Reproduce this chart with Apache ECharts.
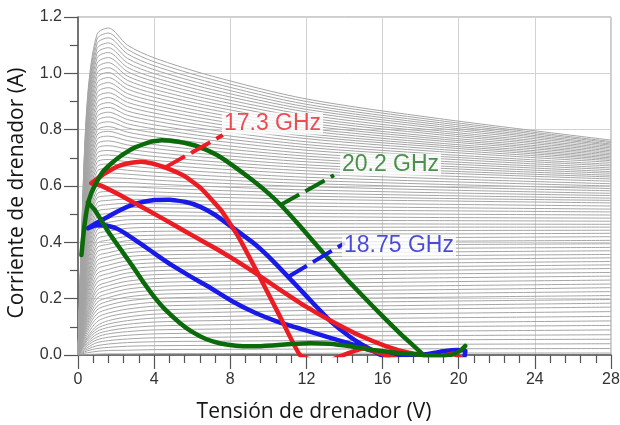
<!DOCTYPE html>
<html>
<head>
<meta charset="utf-8">
<script src="https://cdn.jsdelivr.net/npm/echarts@6.0.0/dist/echarts.min.js"></script>
<style>
  html, body { margin: 0; padding: 0; background: #ffffff; }
  #chart { width: 620px; height: 425px; }
</style>
</head>
<body>
<div id="chart"></div>
<script>
// ---- Output characteristics: drain current (A) sampled at fixed drain voltages (V) ----
// One entry per gate-voltage curve (lowest curve first).
const VDS_SAMPLES = [0, 0.2, 0.5, 1.0, 1.6, 2.6, 4, 7, 12, 19, 28];
const ID_AT_0V = 0;

const id020 = [
  0.001, 0.004, 0.006, 0.009, 0.012, 0.015, 0.018, 0.021, 0.023, 0.026, 0.029,
  0.033, 0.037, 0.042, 0.046, 0.050, 0.054, 0.059, 0.063, 0.067, 0.071,
  0.077, 0.082, 0.087, 0.092, 0.097, 0.103, 0.108, 0.113, 0.118, 0.123,
  0.130, 0.136, 0.142, 0.149, 0.155, 0.161, 0.168, 0.174, 0.180, 0.187,
  0.193, 0.200, 0.207, 0.213, 0.220, 0.227, 0.234, 0.240, 0.247, 0.254,
  0.261, 0.269, 0.277, 0.284, 0.292, 0.299, 0.307, 0.314, 0.322, 0.330,
  0.338, 0.346, 0.355, 0.363, 0.372, 0.380, 0.389, 0.397, 0.405, 0.414,
  0.423, 0.431, 0.440, 0.449, 0.458
];
const id050 = [
  0.002, 0.008, 0.015, 0.021, 0.027, 0.034, 0.040, 0.046, 0.053, 0.059, 0.065,
  0.074, 0.084, 0.093, 0.102, 0.111, 0.120, 0.129, 0.139, 0.148, 0.157,
  0.169, 0.181, 0.193, 0.205, 0.217, 0.229, 0.240, 0.252, 0.264, 0.276,
  0.290, 0.305, 0.319, 0.333, 0.347, 0.361, 0.376, 0.390, 0.404, 0.418,
  0.433, 0.447, 0.462, 0.476, 0.491, 0.506, 0.520, 0.535, 0.549, 0.564,
  0.579, 0.593, 0.608, 0.622, 0.637, 0.651, 0.666, 0.681, 0.695, 0.710,
  0.724, 0.737, 0.751, 0.765, 0.778, 0.792, 0.806, 0.820, 0.833, 0.847,
  0.861, 0.874, 0.888, 0.902, 0.916
];
const id100 = [
  0.003, 0.013, 0.023, 0.033, 0.044, 0.054, 0.064, 0.074, 0.084, 0.094, 0.104,
  0.118, 0.132, 0.146, 0.160, 0.173, 0.187, 0.201, 0.215, 0.229, 0.242,
  0.258, 0.273, 0.288, 0.304, 0.319, 0.334, 0.349, 0.365, 0.380, 0.395,
  0.411, 0.428, 0.444, 0.460, 0.476, 0.492, 0.508, 0.524, 0.540, 0.557,
  0.572, 0.588, 0.604, 0.620, 0.636, 0.652, 0.668, 0.684, 0.700, 0.716,
  0.732, 0.748, 0.765, 0.781, 0.797, 0.814, 0.830, 0.846, 0.862, 0.879,
  0.896, 0.914, 0.931, 0.949, 0.966, 0.984, 1.001, 1.019, 1.036, 1.054,
  1.071, 1.088, 1.105, 1.122, 1.139
];
const id160 = [
  0.004, 0.016, 0.027, 0.039, 0.051, 0.063, 0.075, 0.086, 0.098, 0.110, 0.122,
  0.136, 0.149, 0.163, 0.177, 0.191, 0.204, 0.218, 0.232, 0.246, 0.259,
  0.274, 0.289, 0.304, 0.319, 0.334, 0.349, 0.363, 0.378, 0.393, 0.408,
  0.424, 0.439, 0.455, 0.471, 0.487, 0.502, 0.518, 0.534, 0.549, 0.565,
  0.581, 0.597, 0.613, 0.629, 0.646, 0.662, 0.678, 0.694, 0.710, 0.726,
  0.743, 0.760, 0.777, 0.794, 0.811, 0.828, 0.845, 0.862, 0.879, 0.896,
  0.914, 0.931, 0.949, 0.967, 0.985, 1.003, 1.020, 1.038, 1.056, 1.074,
  1.091, 1.108, 1.126, 1.143, 1.161
];
const id260 = [
  0.004, 0.017, 0.031, 0.044, 0.057, 0.070, 0.083, 0.096, 0.109, 0.122, 0.135,
  0.149, 0.163, 0.177, 0.192, 0.206, 0.220, 0.234, 0.248, 0.262, 0.277,
  0.291, 0.305, 0.320, 0.334, 0.349, 0.363, 0.377, 0.392, 0.406, 0.421,
  0.435, 0.450, 0.465, 0.480, 0.494, 0.509, 0.524, 0.538, 0.553, 0.568,
  0.583, 0.597, 0.612, 0.627, 0.642, 0.656, 0.671, 0.686, 0.701, 0.716,
  0.731, 0.746, 0.761, 0.776, 0.791, 0.806, 0.821, 0.836, 0.851, 0.866,
  0.882, 0.897, 0.913, 0.928, 0.944, 0.959, 0.975, 0.990, 1.006, 1.021,
  1.037, 1.053, 1.069, 1.085, 1.100
];
const id400 = [
  0.005, 0.019, 0.033, 0.047, 0.061, 0.075, 0.089, 0.103, 0.117, 0.131, 0.145,
  0.159, 0.173, 0.187, 0.201, 0.215, 0.229, 0.243, 0.257, 0.271, 0.285,
  0.299, 0.313, 0.327, 0.341, 0.355, 0.369, 0.383, 0.397, 0.411, 0.425,
  0.439, 0.453, 0.467, 0.481, 0.495, 0.509, 0.523, 0.537, 0.551, 0.565,
  0.579, 0.593, 0.607, 0.621, 0.635, 0.649, 0.663, 0.677, 0.691, 0.705,
  0.719, 0.733, 0.747, 0.761, 0.775, 0.789, 0.803, 0.817, 0.831, 0.845,
  0.859, 0.873, 0.887, 0.901, 0.915, 0.929, 0.943, 0.957, 0.971, 0.985,
  0.999, 1.013, 1.027, 1.041, 1.055
];
const id700 = [
  0.005, 0.020, 0.034, 0.049, 0.063, 0.078, 0.092, 0.107, 0.122, 0.136, 0.151,
  0.164, 0.178, 0.192, 0.206, 0.220, 0.234, 0.248, 0.262, 0.276, 0.290,
  0.304, 0.317, 0.331, 0.345, 0.358, 0.372, 0.386, 0.399, 0.413, 0.427,
  0.440, 0.453, 0.466, 0.480, 0.493, 0.506, 0.520, 0.533, 0.546, 0.560,
  0.572, 0.585, 0.598, 0.611, 0.623, 0.636, 0.649, 0.662, 0.675, 0.687,
  0.700, 0.712, 0.724, 0.737, 0.749, 0.762, 0.774, 0.786, 0.799, 0.811,
  0.823, 0.835, 0.847, 0.859, 0.871, 0.883, 0.895, 0.907, 0.919, 0.931,
  0.943, 0.955, 0.967, 0.979, 0.991
];
const id1200 = [
  0.006, 0.021, 0.036, 0.051, 0.067, 0.082, 0.097, 0.112, 0.127, 0.142, 0.158,
  0.171, 0.185, 0.199, 0.213, 0.227, 0.241, 0.254, 0.268, 0.282, 0.296,
  0.309, 0.323, 0.336, 0.349, 0.362, 0.376, 0.389, 0.402, 0.415, 0.429,
  0.441, 0.453, 0.466, 0.478, 0.491, 0.503, 0.515, 0.528, 0.540, 0.553,
  0.564, 0.575, 0.586, 0.598, 0.609, 0.620, 0.631, 0.643, 0.654, 0.665,
  0.675, 0.686, 0.696, 0.706, 0.716, 0.727, 0.737, 0.747, 0.757, 0.768,
  0.777, 0.786, 0.796, 0.805, 0.815, 0.824, 0.834, 0.843, 0.853, 0.863,
  0.872, 0.881, 0.890, 0.900, 0.909
];
const id1900 = [
  0.007, 0.022, 0.038, 0.054, 0.069, 0.085, 0.101, 0.116, 0.132, 0.148, 0.164,
  0.177, 0.191, 0.205, 0.219, 0.232, 0.246, 0.260, 0.274, 0.288, 0.301,
  0.314, 0.327, 0.340, 0.353, 0.366, 0.379, 0.392, 0.404, 0.417, 0.430,
  0.442, 0.454, 0.465, 0.477, 0.488, 0.500, 0.512, 0.523, 0.535, 0.547,
  0.556, 0.566, 0.576, 0.586, 0.596, 0.606, 0.616, 0.626, 0.636, 0.646,
  0.654, 0.663, 0.671, 0.680, 0.688, 0.697, 0.705, 0.713, 0.722, 0.730,
  0.738, 0.745, 0.752, 0.760, 0.767, 0.774, 0.782, 0.789, 0.796, 0.804,
  0.811, 0.818, 0.825, 0.832, 0.839
];
const id2800 = [
  0.007, 0.023, 0.040, 0.056, 0.072, 0.089, 0.105, 0.121, 0.137, 0.154, 0.170,
  0.184, 0.197, 0.211, 0.225, 0.239, 0.252, 0.266, 0.280, 0.293, 0.307,
  0.320, 0.332, 0.345, 0.357, 0.370, 0.382, 0.395, 0.407, 0.420, 0.432,
  0.443, 0.454, 0.464, 0.475, 0.486, 0.497, 0.508, 0.518, 0.529, 0.540,
  0.549, 0.557, 0.566, 0.574, 0.583, 0.591, 0.600, 0.608, 0.617, 0.625,
  0.632, 0.638, 0.645, 0.651, 0.658, 0.664, 0.671, 0.677, 0.684, 0.690,
  0.695, 0.700, 0.705, 0.710, 0.715, 0.720, 0.725, 0.730, 0.735, 0.740,
  0.745, 0.749, 0.754, 0.758, 0.763
];
const ID_COLUMNS = [id020, id050, id100, id160, id260, id400, id700, id1200, id1900, id2800];

// ---- Dynamic load lines [Vds (V), Id (A)] ----
const loop173GHz = [
  [0.70, 0.610], [1.14, 0.603], [2.20, 0.568], [3.33, 0.526], [4.20, 0.494],
  [5.09, 0.460], [6.10, 0.421], [7.19, 0.380], [8.30, 0.335], [9.50, 0.283],
  [10.70, 0.228], [12.00, 0.171], [13.40, 0.117], [14.80, 0.069], [16.20, 0.031],
  [17.30, 0.009], [18.10, 0.000], [19.00, -0.004], [19.70, 0.004], [20.10, -0.010],
  [19.00, -0.040], [17.50, -0.030], [16.30, -0.004], [15.00, 0.024], [13.80, -0.004],
  [12.80, -0.030], [11.66, 0.000], [10.60, 0.138], [9.50, 0.283], [8.42, 0.420],
  [7.54, 0.512], [6.49, 0.590], [5.60, 0.635], [4.60, 0.665], [3.90, 0.680],
  [3.30, 0.686], [2.60, 0.680], [2.10, 0.670], [1.60, 0.652], [1.20, 0.635],
  [0.70, 0.610]
];
const loop1875GHz = [
  [0.53, 0.450], [0.90, 0.460], [1.40, 0.461], [2.00, 0.450], [2.46, 0.433],
  [3.40, 0.390], [4.20, 0.352], [4.90, 0.320], [5.90, 0.279], [6.84, 0.243],
  [8.10, 0.191], [9.30, 0.150], [10.50, 0.118], [11.80, 0.091], [13.00, 0.066],
  [14.30, 0.040], [15.20, 0.020], [16.00, 0.006], [17.00, 0.000], [18.20, 0.002],
  [19.20, 0.013], [19.90, 0.018], [20.35, 0.016], [20.20, -0.030], [18.50, -0.050],
  [16.80, -0.030], [15.90, 0.000], [15.10, 0.030], [14.30, 0.064], [13.30, 0.118],
  [12.40, 0.180], [11.40, 0.252], [10.30, 0.330], [9.30, 0.393], [8.07, 0.455],
  [7.19, 0.498], [6.40, 0.527], [5.61, 0.544], [4.80, 0.551], [4.03, 0.550],
  [3.40, 0.543], [2.81, 0.532], [2.20, 0.514], [1.58, 0.491], [0.90, 0.466],
  [0.53, 0.450]
];
const loop202GHzUpper = [
  [0.18, 0.355], [0.32, 0.450], [0.50, 0.530], [0.70, 0.575], [0.95, 0.610],
  [1.31, 0.651], [1.75, 0.680], [2.19, 0.704], [2.60, 0.722], [3.00, 0.737],
  [3.77, 0.756], [4.40, 0.762], [5.20, 0.758], [5.80, 0.750], [6.40, 0.738],
  [7.30, 0.710], [8.10, 0.674], [9.00, 0.629], [9.90, 0.580], [10.60, 0.536],
  [11.66, 0.458], [13.07, 0.348], [14.30, 0.256], [15.60, 0.165], [16.90, 0.078],
  [18.15, 0.000], [18.50, -0.030]
];
const loop202GHzLower = [
  [0.52, 0.542], [0.90, 0.513], [1.60, 0.437], [2.40, 0.360], [2.89, 0.313],
  [3.40, 0.262], [3.95, 0.211], [4.60, 0.160], [5.35, 0.114], [6.00, 0.082],
  [6.75, 0.056], [7.50, 0.041], [8.30, 0.033], [9.20, 0.031], [10.20, 0.034],
  [11.20, 0.039], [12.20, 0.042], [13.20, 0.040], [14.30, 0.031], [15.50, 0.018],
  [16.80, 0.007], [18.15, 0.000], [19.00, -0.005], [19.70, 0.002], [20.10, 0.016],
  [20.34, 0.032]
];

// ---- Annotation leaders and their frequency labels ----
const leader173 = [[4.61, 0.667], [7.61, 0.781]];
const leader202 = [[10.61, 0.532], [13.45, 0.638]];
const leader1875 = [[11.03, 0.277], [14.03, 0.398]];
const labelNames = ['17.3 GHz', '20.2 GHz', '18.75 GHz'];
const labelAnchors = [[7.56, 0.822], [13.76, 0.676], [13.87, 0.388]];

const RED = '#ec1c24', BLUE = '#1a1ae6', GREEN = '#0b6b0b';
const LABEL_COLORS = ['#e8202a', '#1f761f', '#1e1ed0'];

const chart = echarts.init(document.getElementById('chart'), null, { renderer: 'canvas' });

const series = [];
for (let k = 0; k < id400.length; k++) {
  const pts = [[VDS_SAMPLES[0], ID_AT_0V]];
  for (let j = 0; j < ID_COLUMNS.length; j++) pts.push([VDS_SAMPLES[j + 1], ID_COLUMNS[j][k]]);
  series.push({
    type: 'line', data: pts, smooth: 0.3, symbol: 'none',
    silent: true, z: 1, clip: true,
    lineStyle: { color: '#a5a5a5', width: 1 }
  });
}

function loadLine(data, color) {
  return {
    type: 'line', data: data, smooth: 0.12, symbol: 'none', silent: true, z: 3, clip: true,
    lineStyle: { color: color, width: 4.5, cap: 'round', join: 'round' }
  };
}
series.push(loadLine(loop1875GHz, BLUE));
series.push(loadLine(loop173GHz, RED));
series.push(loadLine(loop202GHzUpper, GREEN));
series.push(loadLine(loop202GHzLower, GREEN));

function leader(data, color) {
  return {
    type: 'line', data: data, symbol: 'none', silent: true, z: 4,
    lineStyle: { color: color, width: 4, type: [22, 7], cap: 'butt' }
  };
}
series.push(leader(leader173, RED));
series.push(leader(leader202, GREEN));
series.push(leader(leader1875, BLUE));

labelNames.forEach(function (name, i) {
  series.push({
    type: 'scatter', data: [labelAnchors[i]], symbol: 'circle', symbolSize: 0,
    silent: true, z: 5,
    label: {
      show: true, position: 'right', distance: 0, formatter: name,
      fontFamily: '"Liberation Sans", Arial, sans-serif', fontSize: 23,
      color: LABEL_COLORS[i], backgroundColor: '#ffffff', padding: [0, 2],
      lineHeight: 22
    }
  });
});

const axisGrey = '#555555';
chart.setOption({
  animation: false,
  backgroundColor: '#ffffff',
  grid: {
    left: 78, right: 9, top: 17, bottom: 70, containLabel: false, outerBoundsMode: 'none',
    show: true, borderColor: '#9a9a9a', borderWidth: 1
  },
  xAxis: {
    type: 'value', min: 0, max: 28, interval: 4,
    axisLine: { show: true, onZero: false, lineStyle: { color: axisGrey, width: 1.5 } },
    axisTick: { show: true, length: 14, lineStyle: { color: axisGrey, width: 1.2 } },
    minorTick: { show: true, splitNumber: 5, length: 8, lineStyle: { color: axisGrey, width: 1.2 } },
    axisLabel: { fontSize: 16, color: '#333333', margin: 17, fontFamily: '"Liberation Sans", Arial, sans-serif' },
    splitLine: { show: true, lineStyle: { color: '#d2d2d2', width: 1 } },
    minorSplitLine: { show: false }
  },
  yAxis: {
    type: 'value', min: 0, max: 1.2, interval: 0.2,
    axisLine: { show: true, onZero: false, lineStyle: { color: axisGrey, width: 1.5 } },
    axisTick: { show: true, length: 14, lineStyle: { color: axisGrey, width: 1.2 } },
    minorTick: { show: true, splitNumber: 2, length: 8, lineStyle: { color: axisGrey, width: 1.2 } },
    axisLabel: {
      fontSize: 16, color: '#333333', margin: 16, fontFamily: '"Liberation Sans", Arial, sans-serif',
      formatter: function (v) { return v.toFixed(1); }
    },
    splitLine: { show: true, lineStyle: { color: '#d2d2d2', width: 1 } },
    minorSplitLine: { show: false }
  },
  graphic: [
    {
      type: 'text', x: 314, y: 412, silent: true,
      style: {
        text: 'Tensión de drenador (V)', fontFamily: '"Open Sans", sans-serif', fontSize: 21,
        fill: '#151515', align: 'center', verticalAlign: 'middle'
      }
    },
    {
      type: 'text', x: 17, y: 193, rotation: Math.PI / 2, silent: true,
      style: {
        text: 'Corriente de drenador (A)', fontFamily: '"Open Sans", sans-serif', fontSize: 21,
        fill: '#151515', align: 'center', verticalAlign: 'middle'
      }
    }
  ],
  series: series
});
</script>
</body>
</html>
